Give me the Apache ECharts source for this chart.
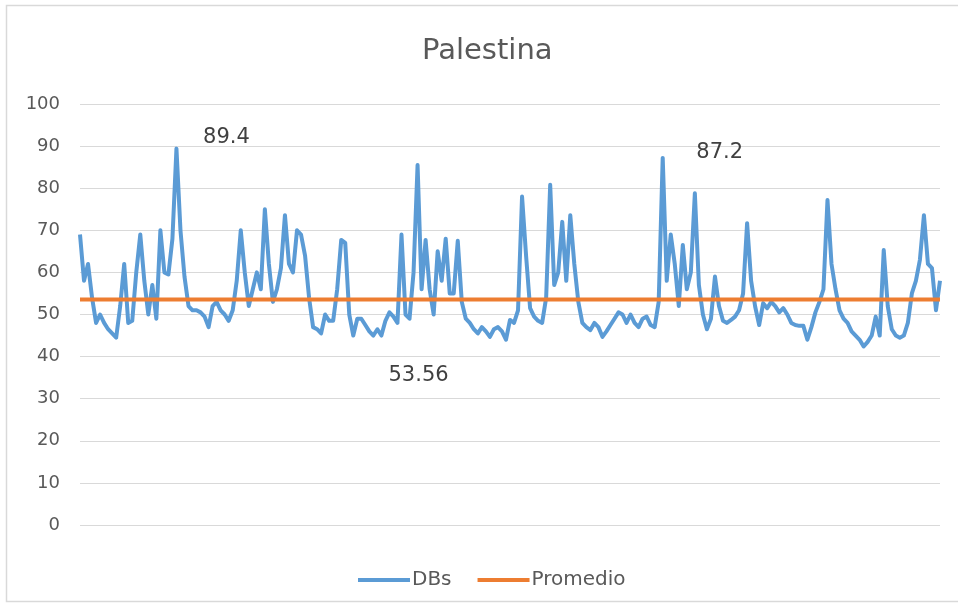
<!DOCTYPE html>
<html>
<head>
<meta charset="utf-8">
<script src="https://cdn.jsdelivr.net/npm/echarts@6/dist/echarts.min.js"></script>
<style>
  html, body { margin: 0; padding: 0; background: #ffffff; }
  #chart { width: 958px; height: 616px; }
</style>
</head>
<body>
<div id="chart"></div>
<script>
// Decibel readings for Palestina, one per sample
const dbs = [
  69, 58, 62, 54, 48, 50, 48, 46.5, 45.5, 44.5,
  52, 62, 48, 48.5, 60, 69, 58, 50, 57, 49,
  70, 60, 59.5, 68, 89.4, 70, 59, 52, 51, 51,
  50.5, 49.5, 47, 52, 53, 51, 50, 48.5, 51, 58,
  70, 60, 52, 56, 60, 56, 75, 62, 53, 56,
  61, 73.6, 62, 60, 70, 69, 64, 54, 47, 46.5,
  45.5, 50, 48.5, 48.5, 56, 67.7, 67, 50, 45, 49,
  49, 47.5, 46, 45, 46.5, 45, 48.5, 50.5, 49.5, 48,
  69, 50, 49, 60, 85.5, 56, 67.7, 56, 50, 65,
  58, 68, 55, 55, 67.5, 53, 49, 48, 46.5, 45.5,
  47, 46, 44.7, 46.5, 47, 46, 44, 48.7, 48, 51,
  78, 64, 51.5, 49.5, 48.5, 48, 54, 80.8, 57, 60,
  72, 58, 73.6, 62, 53, 48, 47, 46.3, 48, 47,
  44.7, 46, 47.5, 49, 50.5, 50, 48, 50, 48, 47,
  49, 49.5, 47.5, 47, 53, 87.2, 58, 69, 62, 52,
  66.5, 56, 60, 78.8, 57, 50, 46.5, 49, 59, 52,
  48.5, 48, 48.7, 49.5, 51, 55, 71.7, 58, 51.9, 47.5,
  52.7, 51.5, 53, 52, 50.5, 51.5, 50, 48, 47.5, 47.3,
  47.3, 44, 47, 50.5, 53, 56, 77.2, 62, 56, 51,
  49, 48, 46, 45, 44, 42.4, 43.5, 45, 49.5, 45,
  65.3, 52, 46.5, 45, 44.5, 45, 48, 55, 58, 63,
  73.6, 62, 61, 51, 58
];
const average = 53.56;
const samples = dbs.map((_, i) => String(i + 1));
const yTicks = [0, 10, 20, 30, 40, 50, 60, 70, 80, 90, 100];

// Peaks that carry a value label, with where the label sits
const peakLabels = [
  { index: 24, offset: [50, -11] },
  { index: 145, offset: [57, -5] }
];
const averageLabelIndex = 84;

const labelText = {
  show: true, position: 'inside', color: '#404040', fontSize: 21,
  fontFamily: 'DejaVu Sans'
};

const dbsData = dbs.map((v, i) => {
  const p = peakLabels.find(pl => pl.index === i);
  if (!p) return v;
  return {
    value: v,
    label: Object.assign({}, labelText, { offset: p.offset, formatter: String(v) })
  };
});
const averageData = samples.map((_, i) => {
  if (i !== averageLabelIndex) return average;
  return {
    value: average,
    label: Object.assign({}, labelText, { offset: [1, 76], formatter: String(average) })
  };
});

const chart = echarts.init(document.getElementById('chart'), null, { renderer: 'canvas' });
chart.setOption({
  backgroundColor: '#ffffff',
  animation: false,
  title: {
    text: 'Palestina',
    left: 417,
    top: 32,
    textStyle: { fontFamily: 'DejaVu Sans', fontSize: 29, fontWeight: 'normal', color: '#595959' }
  },
  graphic: [{
    type: 'rect',
    shape: { x: 6.5, y: 5.5, width: 960, height: 596 },
    style: { fill: 'none', stroke: '#d9d9d9', lineWidth: 1.5 },
    silent: true
  }],
  legend: {
    top: 565,
    left: 353,
    itemWidth: 52,
    itemHeight: 4,
    itemGap: 26,
    icon: 'rect',
    textStyle: { fontFamily: 'DejaVu Sans', fontSize: 20, color: '#595959', padding: [0, 0, 0, -3] },
    data: ['DBs', 'Promedio']
  },
  grid: { left: 80, right: 18, top: 104, bottom: 91, containLabel: false },
  xAxis: {
    type: 'category',
    data: samples,
    boundaryGap: false,
    axisLine: { show: false },
    axisTick: { show: false },
    axisLabel: { show: false },
    splitLine: { show: false }
  },
  yAxis: {
    type: 'value',
    min: 0,
    max: 100,
    interval: 10,
    axisLine: { show: false },
    axisTick: { show: false },
    axisLabel: {
      fontFamily: 'DejaVu Sans', fontSize: 18, color: '#595959', margin: 20,
      formatter: v => yTicks.includes(v) ? String(v) : ''
    },
    splitLine: { lineStyle: { color: '#d9d9d9', width: 1 } }
  },
  series: [
    {
      name: 'DBs',
      type: 'line',
      data: dbsData,
      showSymbol: true,
      showAllSymbol: true,
      symbol: 'circle',
      symbolSize: 0,
      color: '#5b9bd5',
      lineStyle: { color: '#5b9bd5', width: 4, join: 'round' },
      z: 2
    },
    {
      name: 'Promedio',
      type: 'line',
      data: averageData,
      showSymbol: true,
      showAllSymbol: true,
      symbol: 'circle',
      symbolSize: 0,
      color: '#ed7d31',
      lineStyle: { color: '#ed7d31', width: 4 },
      z: 3
    }
  ]
});
</script>
</body>
</html>
